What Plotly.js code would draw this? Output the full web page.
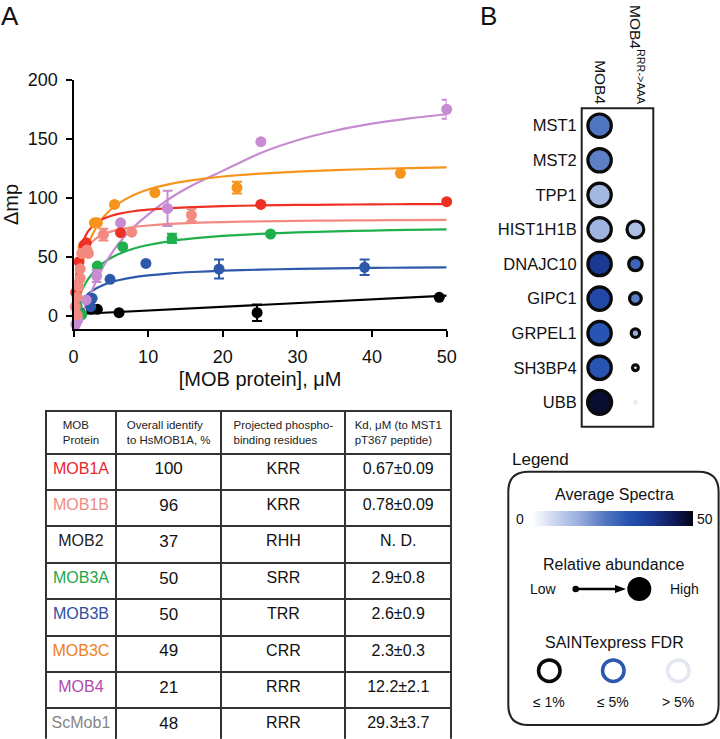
<!DOCTYPE html>
<html>
<head>
<meta charset="utf-8">
<script src="https://cdn.plot.ly/plotly-3.0.1.min.js"></script>
<style>html,body{margin:0;padding:0;background:#fff;}#chart{width:720px;height:739px;}</style>
</head>
<body>
<div id="chart"></div>
<script>
// ---------- Panel A: binding data (x in µM, y = Δmp) ----------
const mob1aX = [0.3, 0.74, 1.4, 1.7, 6.3, 25.1, 50];
const mob1aY = [20, 46, 60, 62, 70.6, 94.6, 96.9];

const mob1bX = [0.25, 0.5, 0.5, 0.7, 0.9, 0.9, 1.1, 1.8, 2.0, 4.0, 7.8, 15.8];
const mob1bY = [8, 1, 16, 25, 32, 40, 53, 56, 53, 69, 71, 85.6];
const mob1bErr = [NaN, NaN, NaN, NaN, NaN, NaN, NaN, NaN, NaN, 5, NaN, 5];

const mob2X = [0.8, 2.4, 3.2, 6.1, 24.6, 49];
const mob2Y = [3, 5.7, 5.7, 2.8, 2.8, 15.8];
const mob2Err = [NaN, 3, NaN, NaN, 7, NaN];

const mob3aX = [0.5, 1.1, 3.2, 6.6, 13.2, 26.4];
const mob3aY = [8, 1, 42.4, 58.8, 65.8, 69.5];
const mob3aErr = [NaN, NaN, NaN, NaN, 4, NaN];

const mob3bX = [1.0, 2.3, 2.5, 4.9, 9.7, 19.5, 39];
const mob3bY = [2, 8, 15, 31.1, 44.6, 39.8, 41.3];
const mob3bErr = [NaN, NaN, NaN, NaN, NaN, 8, 6.5];

const mob3cX = [0.5, 1.3, 2.8, 3.2, 5.5, 10.9, 21.9, 43.8];
const mob3cY = [22, 58, 79, 79, 94.6, 104.5, 108.8, 120.9];
const mob3cErr = [NaN, NaN, NaN, NaN, NaN, NaN, 5, NaN];

const mob4X = [0.3, 0.6, 1.7, 3.1, 6.3, 12.6, 25.1, 50];
const mob4Y = [-7, -3, 13.6, 33.9, 79, 91.2, 147.7, 175.2];
const mob4Err = [NaN, NaN, NaN, 5, NaN, 15, NaN, 8];

// fitted curves
const fitX      = [0, 0.3, 0.7, 1, 1.5, 2, 3, 4, 5, 6, 8, 10, 13, 16, 20, 25, 30, 35, 40, 45, 50];
const fitMOB1A  = [0, 29.8, 49.2, 57.6, 66.5, 72.1, 78.6, 82.4, 84.8, 86.5, 88.8, 90.2, 91.5, 92.3, 93.1, 93.7, 94.1, 94.4, 94.6, 94.8, 94.9];
const fitMOB1B  = [0, 23.0, 39.1, 46.5, 54.4, 59.5, 65.6, 69.2, 71.5, 73.2, 75.4, 76.7, 78.0, 78.9, 79.6, 80.2, 80.6, 80.9, 81.1, 81.3, 81.4];
const fitMOB3A  = [0, 7.3, 15.1, 19.9, 26.5, 31.7, 39.5, 45.0, 49.2, 52.4, 57.0, 60.2, 63.5, 65.8, 67.9, 69.6, 70.9, 71.8, 72.4, 73.0, 73.4];
const fitMOB3B  = [0, 4.5, 9.2, 12.1, 15.9, 18.9, 23.3, 26.3, 28.6, 30.3, 32.8, 34.4, 36.2, 37.3, 38.4, 39.3, 39.9, 40.4, 40.8, 41.0, 41.3];
const fitMOB3C  = [0, 15.2, 30.8, 39.9, 52.0, 61.3, 74.6, 83.7, 90.3, 95.3, 102.4, 107.2, 112.0, 115.2, 118.2, 120.7, 122.4, 123.7, 124.6, 125.4, 126.0];
const fitMOB4X  = [0.3, 0.7, 1, 1.5, 2, 3, 4, 5, 6, 8, 10, 13, 16, 20, 25, 30, 35, 40, 45, 50];
const fitMOB4   = [-8, -4, 0, 7, 14.5, 29, 42, 52, 61, 75, 86, 100, 111, 123, 138, 149, 157, 163, 167.5, 171];
const fitMOB2X  = [0, 50];
const fitMOB2   = [1.5, 17.3];

// ---------- Table ----------
const tblProtein  = ["MOB1A", "MOB1B", "MOB2", "MOB3A", "MOB3B", "MOB3C", "MOB4", "ScMob1"];
const tblIdentity = ["100", "96", "37", "50", "50", "49", "21", "48"];
const tblResidues = ["KRR", "KRR", "RHH", "SRR", "TRR", "CRR", "RRR", "RRR"];
const tblKd       = ["0.67±0.09", "0.78±0.09", "N. D.", "2.9±0.8", "2.6±0.9", "2.3±0.3", "12.2±2.1", "29.3±3.7"];
const tblHeader   = ["MOB<br>Protein", "Overall identify<br>to HsMOB1A, %", "Projected phospho-<br>binding residues", "Kd, μM (to MST1<br>pT367 peptide)"];

// ---------- Panel B: dot plot ----------
const genes   = ["MST1", "MST2", "TPP1", "HIST1H1B", "DNAJC10", "GIPC1", "GRPEL1", "SH3BP4", "UBB"];
const baits   = ["MOB4", "MOB4<sup>RRR->AAA</sup>"];
const spectraMOB4 = [23, 21.5, 13, 13.5, 37, 33, 29.5, 29.5, 47.5];
const spectraMut  = [null, null, null, 11.5, 26, 21.5, 14.5, 0.5, 1];
const abundMOB4   = [0.975, 0.975, 0.975, 0.975, 0.975, 0.975, 0.975, 0.975, 1.0];
const abundMut    = [null, null, null, 0.7, 0.56, 0.49, 0.35, 0.24, 0.06];
const fdrMOB4     = ["≤1%", "≤1%", "≤1%", "≤1%", "≤1%", "≤1%", "≤1%", "≤1%", "≤1%"];
const fdrMut      = [null, null, null, "≤1%", "≤1%", "≤1%", "≤1%", "≤1%", ">5%"];
const spectraRange = [0, 50];

// ---------- styles ----------
const FONT = "Liberation Sans, Arial, Helvetica, sans-serif";
const C = {
  MOB1A: "#ee3124", MOB1B: "#f38a80", MOB2: "#000000", MOB3A: "#1fb04b",
  MOB3B: "#2e59ab", MOB3C: "#f7941d", MOB4: "#c68bd1"
};
const nameColors = {MOB1A: "#e8262c", MOB1B: "#f08a84", MOB2: "#222222", MOB3A: "#1aa84b",
  MOB3B: "#2d4fa1", MOB3C: "#f07e1a", MOB4: "#b04aae", ScMob1: "#858585"};
const fdrColor = {"≤1%": "#0a0a0a", "≤5%": "#2c58b0", ">5%": "#e3e7f0"};
const blueScale = [[0, "#ffffff"], [0.15, "#c8d4ee"], [0.3, "#95acdc"], [0.45, "#5478c2"],
  [0.6, "#2553b3"], [0.75, "#1a3790"], [0.9, "#0d1650"], [1, "#050510"]];

const W = 720, H = 739;
const px = v => v / W;
const py = v => 1 - v / H;

const traces = [];
function fit(x, y, color) {
  traces.push({type: "scatter", mode: "lines", x: x, y: y, xaxis: "x", yaxis: "y",
    line: {color: color, width: 2.2, shape: "spline", smoothing: 0.6}, cliponaxis: false, hoverinfo: "skip"});
}
function pts(x, y, err, color) {
  const t = {type: "scatter", mode: "markers", x: x, y: y, xaxis: "x", yaxis: "y",
    marker: {color: color, size: 11}, cliponaxis: false};
  if (err) t.error_y = {type: "data", array: err, visible: true, color: color, thickness: 2, width: 5};
  traces.push(t);
}
fit(fitMOB2X, fitMOB2, C.MOB2);
fit(fitX, fitMOB3B, C.MOB3B);
fit(fitX, fitMOB3A, C.MOB3A);
fit(fitMOB4X, fitMOB4, C.MOB4);
fit(fitX, fitMOB3C, C.MOB3C);
fit(fitX, fitMOB1A, C.MOB1A);
fit(fitX, fitMOB1B, C.MOB1B);
pts(mob2X, mob2Y, mob2Err, C.MOB2);
pts(mob3bX, mob3bY, mob3bErr, C.MOB3B);
pts(mob3aX, mob3aY, mob3aErr, C.MOB3A);
pts(mob4X, mob4Y, mob4Err, C.MOB4);
pts(mob3cX, mob3cY, mob3cErr, C.MOB3C);
pts(mob1aX, mob1aY, null, C.MOB1A);
pts(mob1bX, mob1bY, mob1bErr, C.MOB1B);

// table
const black8 = tblProtein.map(() => "#111111");
traces.push({
  type: "table",
  domain: {x: [px(46), px(451.7)], y: [0, py(410.7)]},
  columnwidth: [70, 105.7, 124.3, 105.7],
  header: {values: tblHeader, align: "center", height: 36,
    line: {color: "#333333", width: 2}, fill: {color: "#ffffff"},
    font: {family: FONT, size: 11.5, color: "#222222"}},
  cells: {values: [tblProtein, tblIdentity, tblResidues, tblKd], align: "center", height: 36.4,
    line: {color: "#333333", width: 2}, fill: {color: "#ffffff"},
    font: {family: FONT, size: [16, 17, 16, 16],
      color: [tblProtein.map(p => nameColors[p]), black8, black8, black8]}}
});

// dot plot
function dotTrace(col, spectra, abund, fdr, showScale) {
  const idx = genes.map((g, i) => i).filter(i => spectra[i] !== null);
  const t = {type: "scatter", mode: "markers", xaxis: "x2", yaxis: "y2",
    x: idx.map(() => baits[col]), y: idx.map(i => genes[i]),
    marker: {color: idx.map(i => spectra[i]), colorscale: blueScale, cmin: spectraRange[0], cmax: spectraRange[1],
      size: idx.map(i => abund[i] * 24), opacity: 1,
      line: {color: idx.map(i => fdrColor[fdr[i]]), width: 3.2}},
    cliponaxis: false, hoverinfo: "x+y"};
  if (showScale) {
    t.marker.showscale = true;
    t.marker.colorbar = {orientation: "h", thickness: 15.3, thicknessmode: "pixels",
      len: 161, lenmode: "pixels", x: px(612.2), xanchor: "center", y: py(526), yanchor: "bottom",
      xpad: 0, ypad: 0, outlinewidth: 0, showticklabels: false, ticks: ""};
  } else {
    t.marker.showscale = false;
  }
  return t;
}
traces.push(dotTrace(0, spectraMOB4, abundMOB4, fdrMOB4, true));
traces.push(dotTrace(1, spectraMut, abundMut, fdrMut, false));

const axCommon = {showline: true, linewidth: 2, linecolor: "#000", ticks: "outside", ticklen: 6, tickwidth: 2,
  tickcolor: "#000", showgrid: false, zeroline: false, tickfont: {family: FONT, size: 18, color: "#111"}};

const shapes = [];
const annotations = [];
// dot plot frame
shapes.push({type: "rect", xref: "paper", yref: "paper", x0: px(581.7), x1: px(653.3), y0: py(426.7), y1: py(108.3),
  line: {color: "#222", width: 2}});
// legend box (rounded)
(function () {
  const x0 = 508.3, x1 = 718.6, t = 471.7, b = 725, r = 20;
  const P = (x, y) => px(x).toFixed(5) + "," + py(y).toFixed(5);
  const d = "M" + P(x0 + r, t) + " L" + P(x1 - r, t) + " Q" + P(x1, t) + " " + P(x1, t + r) +
    " L" + P(x1, b - r) + " Q" + P(x1, b) + " " + P(x1 - r, b) + " L" + P(x0 + r, b) +
    " Q" + P(x0, b) + " " + P(x0, b - r) + " L" + P(x0, t + r) + " Q" + P(x0, t) + " " + P(x0 + r, t) + " Z";
  shapes.push({type: "path", xref: "paper", yref: "paper", path: d, line: {color: "#222", width: 2}});
})();
function circ(cx, cy, d, fill, lineColor, lw) {
  shapes.push({type: "circle", xref: "paper", yref: "paper", x0: px(cx - d / 2), x1: px(cx + d / 2),
    y0: py(cy + d / 2), y1: py(cy - d / 2), fillcolor: fill, line: {color: lineColor, width: lw}});
}
// relative abundance glyph
circ(575.7, 589, 6.5, "#000", "#000", 0);
shapes.push({type: "line", xref: "paper", yref: "paper", x0: px(578), x1: px(617), y0: py(589), y1: py(589),
  line: {color: "#000", width: 2.4}});
shapes.push({type: "path", xref: "paper", yref: "paper",
  path: "M" + px(615) + "," + py(585) + " L" + px(626) + "," + py(589) + " L" + px(615) + "," + py(593) + " Z",
  fillcolor: "#000", line: {color: "#000", width: 0}});
circ(639.3, 589, 24, "#000", "#000", 0);
// FDR rings
circ(549.3, 670.7, 21.5, "rgba(0,0,0,0)", fdrColor["≤1%"], 3.5);
circ(613.3, 670.7, 21.5, "rgba(0,0,0,0)", fdrColor["≤5%"], 3.5);
circ(678.3, 670.7, 21.5, "rgba(0,0,0,0)", fdrColor[">5%"], 3.5);

function txt(text, x, y, size, xanchor, extra) {
  annotations.push(Object.assign({text: text, xref: "paper", yref: "paper", x: px(x), y: py(y),
    xanchor: xanchor || "center", yanchor: "middle", showarrow: false,
    font: {family: FONT, size: size, color: "#111"}}, extra || {}));
}
txt("A", 10, 16, 26);
txt("B", 488, 16, 26);
txt("Legend", 510, 459, 17, "left");
txt("Average Spectra", 614, 494, 16);
txt("0", 519.5, 518.5, 14);
txt("50", 705, 518.5, 14);
txt("Relative abundance", 614, 564, 16);
txt("Low", 543, 589, 14);
txt("High", 684, 589, 14);
txt("SAINTexpress FDR", 614, 642, 16);
txt("≤ 1%", 549.3, 702, 14);
txt("≤ 5%", 613.3, 702, 14);
txt("> 5%", 678.3, 702, 14);

const layout = {
  width: W, height: H, margin: {l: 0, r: 0, t: 0, b: 0, pad: 0},
  paper_bgcolor: "#fff", plot_bgcolor: "rgba(0,0,0,0)", showlegend: false,
  font: {family: FONT, color: "#111"},
  xaxis: Object.assign({}, axCommon, {domain: [px(73.5), px(446.7)], range: [0, 50], anchor: "y",
    tickvals: [0, 10, 20, 30, 40, 50], ticklabelstandoff: 4,
    title: {text: "[MOB protein], μM", font: {family: FONT, size: 20, color: "#111"}, standoff: 6}}),
  yaxis: Object.assign({}, axCommon, {domain: [py(329), py(80)], range: [-11, 200], anchor: "x",
    tickvals: [0, 50, 100, 150, 200], ticklabelstandoff: 4,
    title: {text: "Δmp", font: {family: FONT, size: 20, color: "#111"}, standoff: 8}}),
  xaxis2: {domain: [px(581.7), px(653.3)], anchor: "y2", side: "top", type: "category",
    categoryorder: "array", categoryarray: baits, range: [-0.5, 1.5], tickangle: 90,
    showline: false, showgrid: false, zeroline: false, ticks: "", ticklabelstandoff: 1,
    tickfont: {family: FONT, size: 15.5, color: "#111"}},
  yaxis2: {domain: [py(419.6), py(108.4)], anchor: "x2", type: "category",
    categoryorder: "array", categoryarray: genes, range: [8.5, -0.5],
    showline: false, showgrid: false, zeroline: false, ticks: "", ticklabelstandoff: 4,
    tickfont: {family: FONT, size: 16.5, color: "#111"}},
  shapes: shapes, annotations: annotations
};

Plotly.newPlot("chart", traces, layout, {staticPlot: true, displayModeBar: false});
</script>
</body>
</html>
